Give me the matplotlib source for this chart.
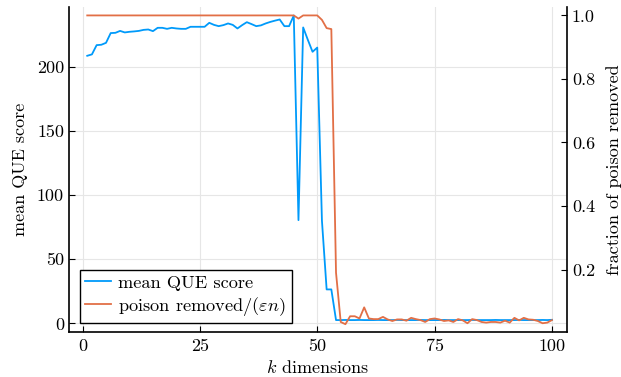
import matplotlib.pyplot as plt

plt.rcParams['font.family'] = 'cmr10'
plt.rcParams['mathtext.fontset'] = 'cm'
plt.rcParams['axes.unicode_minus'] = False

k = list(range(1, 101))

# mean QUE score per number of dimensions k
que_score = [
    208.6, 209.7, 216.9, 217.2, 218.7, 226.3, 226.5, 228.0, 226.8, 227.3,
    227.6, 228.0, 228.8, 229.1, 227.8, 230.4, 230.4, 229.6, 230.4, 229.9,
    229.6, 229.6, 231.2, 231.2, 231.2, 231.2, 234.3, 232.7, 231.7, 232.5,
    233.8, 232.7, 229.9, 232.5, 234.8, 233.3, 231.7, 232.3, 233.8, 235.0,
    236.0, 236.9, 231.7, 231.7, 240.0, 80.5, 230.7, 221.0, 211.7, 215.0,
    80.0, 26.5, 26.5, 2.6, 2.6, 2.7, 2.6, 2.6, 2.7, 2.6,
    2.6, 2.6, 2.7, 2.6, 2.6, 2.6, 2.7, 2.6, 2.6, 2.6,
    2.6, 2.7, 2.6, 2.6, 2.6, 2.6, 2.7, 2.6, 2.6, 2.6,
    2.6, 2.6, 2.7, 2.6, 2.6, 2.6, 2.6, 2.7, 2.6, 2.6,
    2.6, 2.6, 2.7, 2.6, 2.6, 2.6, 2.6, 2.7, 2.6, 2.8,
]

# fraction of poison removed / (eps n)
poison_removed = [1.0] * 45 + [
    0.99, 1.0, 1.0, 1.0, 1.0, 0.986, 0.96, 0.957, 0.19, 0.035,
    0.028, 0.053, 0.053, 0.046, 0.081, 0.046, 0.044, 0.044, 0.051, 0.043,
    0.038, 0.043, 0.043, 0.039, 0.048, 0.044, 0.041, 0.035, 0.044, 0.046,
    0.043, 0.038, 0.040, 0.035, 0.044, 0.040, 0.031, 0.044, 0.041, 0.035,
    0.033, 0.035, 0.035, 0.033, 0.039, 0.033, 0.048, 0.040, 0.048, 0.043,
    0.042, 0.038, 0.031, 0.033, 0.041,
]

blue = '#009AFA'
orange = '#E26F46'

fig = plt.figure(figsize=(6.21, 3.77), dpi=100)
ax = fig.add_axes([0.111, 0.119, 0.802, 0.862])
ax2 = ax.twinx()

l1, = ax.plot(k, que_score, color=blue, lw=1.3, label='mean QUE score')
l2, = ax2.plot(k, poison_removed, color=orange, lw=1.3,
               label=r'poison removed$/(\varepsilon n)$')

ax.set_xlim(-2.9, 103.2)
ax.set_ylim(-6.8, 246.5)
ax2.set_ylim(0.003, 1.026)
ax.set_xticks([0, 25, 50, 75, 100])
ax.set_yticks([0, 50, 100, 150, 200])
ax2.set_yticks([0.2, 0.4, 0.6, 0.8, 1.0])
ax2.set_yticklabels(['0.2', '0.4', '0.6', '0.8', '1.0'])

ax.grid(True, color='#e6e6e6', lw=0.8)
ax.set_axisbelow(True)
for a in (ax, ax2):
    a.spines['top'].set_visible(False)
    a.tick_params(direction='in', length=4, labelsize=13, width=0.8)
ax.tick_params(axis='x', pad=5)
ax.spines['right'].set_visible(False)
ax.spines['left'].set_linewidth(1.2)
ax.spines['bottom'].set_linewidth(1.2)
ax2.spines['right'].set_linewidth(1.2)
ax2.spines['left'].set_visible(False)
ax2.spines['bottom'].set_visible(False)

ax.set_xlabel(r'$k$ dimensions', fontsize=13, labelpad=3)
ax.set_ylabel('mean QUE score', fontsize=13, labelpad=6)
ax2.set_ylabel('fraction of poison removed', fontsize=13, labelpad=8)

leg = ax2.legend([l1, l2], [l1.get_label(), l2.get_label()], loc='lower left',
                 bbox_to_anchor=(0.022, 0.028), fontsize=13.2, fancybox=False,
                 framealpha=1, edgecolor='black', handlelength=1.4,
                 handletextpad=0.4, borderpad=0.3, labelspacing=0.2,
                 borderaxespad=0)
leg.get_frame().set_linewidth(1.0)

fig.savefig('out.png', dpi=100)
